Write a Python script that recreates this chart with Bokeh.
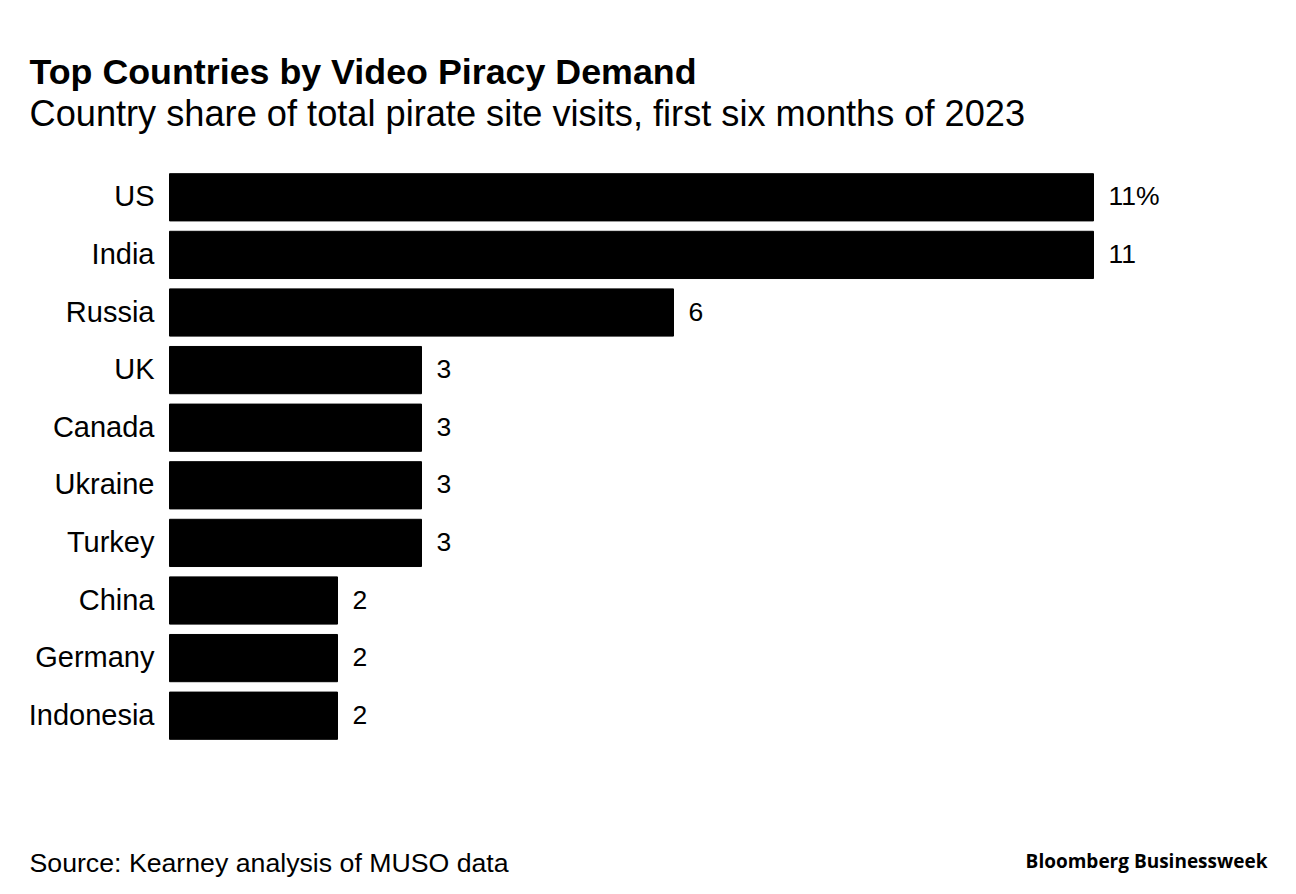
from bokeh.plotting import figure
from bokeh.models import ColumnDataSource, Label, LabelSet, Range1d
from bokeh.core.properties import value
from bokeh.embed import file_html
from bokeh.resources import INLINE

countries = ["US", "India", "Russia", "UK", "Canada", "Ukraine", "Turkey", "China", "Germany", "Indonesia"]
shares = [11, 11, 6, 3, 3, 3, 3, 2, 2, 2]
value_labels = ["11%", "11", "6", "3", "3", "3", "3", "2", "2", "2"]

title_text = "Top Countries by Video Piracy Demand"
subtitle_text = "Country share of total pirate site visits, first six months of 2023"
source_text = "Source: Kearney analysis of MUSO data"
brand_text = "Bloomberg Businessweek"

FONT = "Liberation Sans"
W, H = 1290, 880
X0_PX = 169.0        # pixel of value 0
PX_PER_UNIT = 84.0
ROW0_PX = 196.8      # pixel centre of first row
ROW_PX = 57.6        # row pitch

rows = list(range(len(countries)))
src = ColumnDataSource(dict(country=countries, row=rows, share=shares, label=value_labels))

p = figure(width=W, height=H,
           x_range=Range1d(-X0_PX / PX_PER_UNIT, (W - X0_PX) / PX_PER_UNIT),
           y_range=Range1d((H - ROW0_PX) / ROW_PX, -ROW0_PX / ROW_PX),
           output_backend="svg", toolbar_location=None, title=None,
           min_border=0, min_border_left=0, min_border_right=0,
           min_border_top=0, min_border_bottom=0)
p.outline_line_color = None
p.xgrid.visible = False
p.ygrid.visible = False
p.xaxis.visible = False
p.yaxis.visible = False
p.background_fill_color = "white"
p.border_fill_color = "white"

p.hbar(y="row", left=0, right="share", height=0.82, color="black", source=src)

# category labels (left of bars)
p.add_layout(LabelSet(x=0, y="row", text="country", source=src, x_offset=-15, y_offset=1,
                      text_align="right", text_baseline="middle",
                      text_font=value(FONT), text_font_size=value("29px"),
                      text_color="black"))
# value labels
p.add_layout(LabelSet(x="share", y="row", text="label", source=src, x_offset=15, y_offset=1,
                      text_baseline="middle", text_font=value(FONT), text_font_size=value("26.5px"),
                      text_color="black"))

def canvas_label(x, y_img, text, size, style="normal", font=FONT, align="left"):
    p.add_layout(Label(x=x, y=H - y_img, x_units="screen", y_units="screen", text=text,
                       text_font=font, text_font_style=style, text_font_size=size,
                       text_align=align, text_baseline="alphabetic", text_color="black"))

canvas_label(29, 71, title_text, "35.8px", "bold")
canvas_label(29, 113, subtitle_text, "36.2px")
canvas_label(29, 862, source_text, "26.7px")
canvas_label(1267, 860, brand_text, "19px", "bold", font="Open Sans", align="right")

open("out.html", "w").write(file_html(p, INLINE))
